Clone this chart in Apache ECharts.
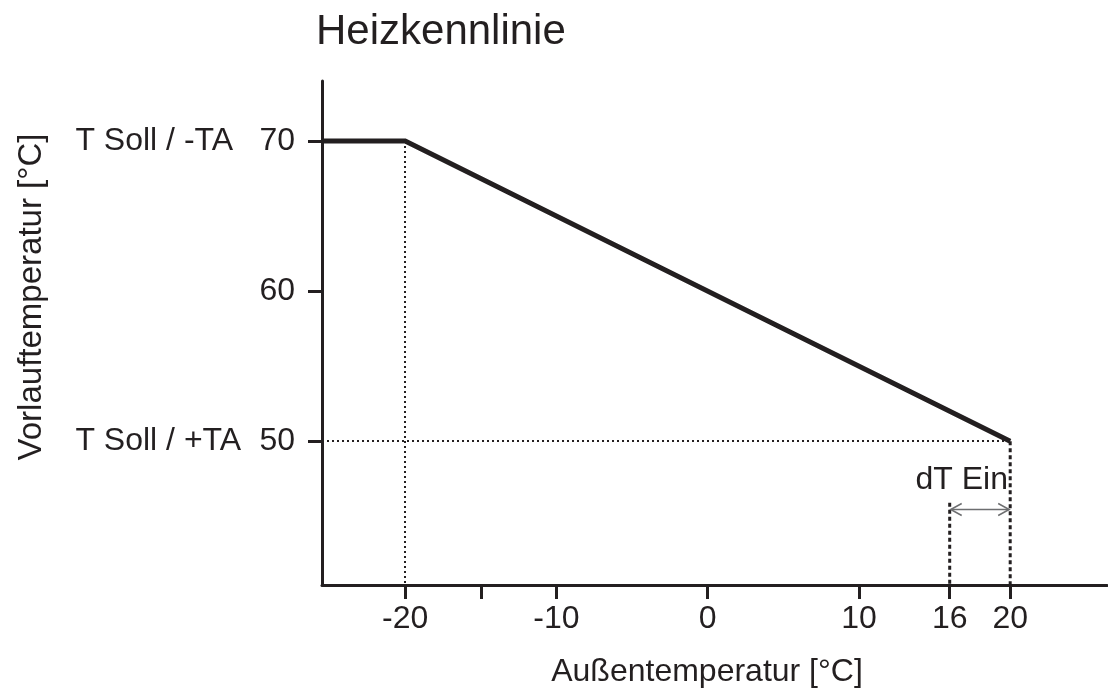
<!DOCTYPE html>
<html>
<head>
<meta charset="utf-8">
<script src="https://cdn.jsdelivr.net/npm/echarts@6/dist/echarts.min.js"></script>
<style>
html,body{margin:0;padding:0;background:#fff;}
#chart{width:1108px;height:693px;}
</style>
</head>
<body>
<div id="chart"></div>
<script>
// ---- data ----
const curveX = [-25.5, -20, 20];
const curveY = [70, 70, 50];
const xTickValues = [-20, -15, -10, 0, 10, 16, 20];
const xLabelValues = [-20, -10, 0, 10, 16, 20];
const yTickValues = [50, 60, 70];
const ySideLabels = { 70: 'T Soll / -TA', 50: 'T Soll / +TA' };
const xRange = [-25.5, 26.4];
const yRange = [40.42, 74];
// guide lines: [x, yTop] vertical to axis; horizontal [xEnd, y] from axis
const dottedVertical = [[-20, 70]];
const dottedHorizontal = [[20, 50]];
const dashedVertical = [[16, 45.9], [20, 50]];
const dTArrow = [[16, 20, 45.45]];
const dTLabel = [[19.85, 47.4, 'dT Ein']];

const INK = '#231f20';
const FONT = 'Liberation Sans, Arial, sans-serif';
const FS = 32;

const chart = echarts.init(document.getElementById('chart'), null, {renderer: 'canvas'});

function bottomOf(params){ return params.coordSys.y + params.coordSys.height; }
function leftOf(params){ return params.coordSys.x; }

const option = {
  backgroundColor: '#ffffff',
  animation: false,
  title: {
    text: 'Heizkennlinie',
    left: 311, top: 6,
    textStyle: {fontFamily: FONT, fontSize: 42, fontWeight: 'normal', color: INK}
  },
  grid: {left: 322, right: 1, top: 81, bottom: 105, containLabel: false},
  xAxis: {
    type: 'value', min: xRange[0], max: xRange[1],
    name: 'Außentemperatur [°C]', nameLocation: 'middle', nameGap: 71,
    nameTextStyle: {fontFamily: FONT, fontSize: FS, color: INK, padding: [0, 15, 0, 0]},
    axisLine: {show: true, onZero: false, lineStyle: {color: INK, width: 3}},
    axisTick: {show: true, length: 14, lineStyle: {color: INK, width: 3}, customValues: xTickValues},
    axisLabel: {fontFamily: FONT, fontSize: FS, color: INK, margin: 18, customValues: xLabelValues},
    splitLine: {show: false}
  },
  yAxis: {
    type: 'value', min: yRange[0], max: yRange[1],
    name: 'Vorlauftemperatur [°C]', nameLocation: 'middle', nameGap: 274, nameRotate: 90,
    nameTextStyle: {fontFamily: FONT, fontSize: 33, color: INK, padding: [0, 0, 0, 72]},
    axisLine: {show: true, onZero: false, lineStyle: {color: INK, width: 3}},
    axisTick: {show: true, length: 14, lineStyle: {color: INK, width: 3}, customValues: yTickValues},
    axisLabel: {
      fontFamily: FONT, fontSize: FS, color: INK, margin: 27, customValues: yTickValues,
      formatter: function(v){
        const side = ySideLabels[v];
        return side ? '{a|' + side + '}{b|' + v + '}' : '{b|' + v + '}';
      },
      rich: {
        a: {fontFamily: FONT, fontSize: FS, color: INK, width: 184, align: 'left'},
        b: {fontFamily: FONT, fontSize: FS, color: INK}
      }
    },
    splitLine: {show: false}
  },
  series: [
    {
      type: 'custom', name: 'dottedV', silent: true, z: 2,
      data: dottedVertical,
      renderItem: function(params, api){
        const p = api.coord([api.value(0), api.value(1)]);
        const x = Math.round(p[0]);
        return {type: 'line', shape: {x1: x, y1: p[1], x2: x, y2: bottomOf(params)},
          style: {stroke: INK, lineWidth: 2, lineDash: [2, 3]}};
      }
    },
    {
      type: 'custom', name: 'dottedH', silent: true, z: 2,
      data: dottedHorizontal,
      renderItem: function(params, api){
        const p = api.coord([api.value(0), api.value(1)]);
        const y = Math.round(p[1]);
        return {type: 'line', shape: {x1: leftOf(params), y1: y, x2: p[0], y2: y},
          style: {stroke: INK, lineWidth: 2, lineDash: [2, 3]}};
      }
    },
    {
      type: 'custom', name: 'dashedV', silent: true, z: 2,
      data: dashedVertical,
      renderItem: function(params, api){
        const p = api.coord([api.value(0), api.value(1)]);
        return {type: 'line', shape: {x1: p[0], y1: p[1], x2: p[0], y2: bottomOf(params)},
          style: {stroke: INK, lineWidth: 3, lineDash: [4, 3]}};
      }
    },
    {
      type: 'custom', name: 'arrow', silent: true, z: 3,
      data: dTArrow,
      renderItem: function(params, api){
        const a = api.coord([api.value(0), api.value(2)]);
        const b = api.coord([api.value(1), api.value(2)]);
        const st = {stroke: '#6d6e70', lineWidth: 1.5, fill: null};
        const L = 11, H = 6;
        return {type: 'group', children: [
          {type: 'line', shape: {x1: a[0] + 1, y1: a[1], x2: b[0] - 1, y2: b[1]}, style: st},
          {type: 'polyline', shape: {points: [[a[0] + L + 1, a[1] - H], [a[0] + 1, a[1]], [a[0] + L + 1, a[1] + H]]}, style: st},
          {type: 'polyline', shape: {points: [[b[0] - L - 1, b[1] - H], [b[0] - 1, b[1]], [b[0] - L - 1, b[1] + H]]}, style: st}
        ]};
      }
    },
    {
      type: 'custom', name: 'label', silent: true, z: 3,
      data: dTLabel,
      renderItem: function(params, api){
        const p = api.coord([api.value(0), api.value(1)]);
        return {type: 'text', x: p[0], y: p[1],
          style: {text: dTLabel[params.dataIndex][2], fontFamily: FONT, fontSize: FS, fill: INK,
            align: 'right', verticalAlign: 'middle'}};
      }
    },
    {
      type: 'line', name: 'Heizkennlinie', z: 5,
      data: curveX.map((x, i) => [x, curveY[i]]),
      showSymbol: false, symbol: 'none',
      lineStyle: {color: INK, width: 5, join: 'miter'}
    }
  ]
};
chart.setOption(option);
</script>
</body>
</html>
